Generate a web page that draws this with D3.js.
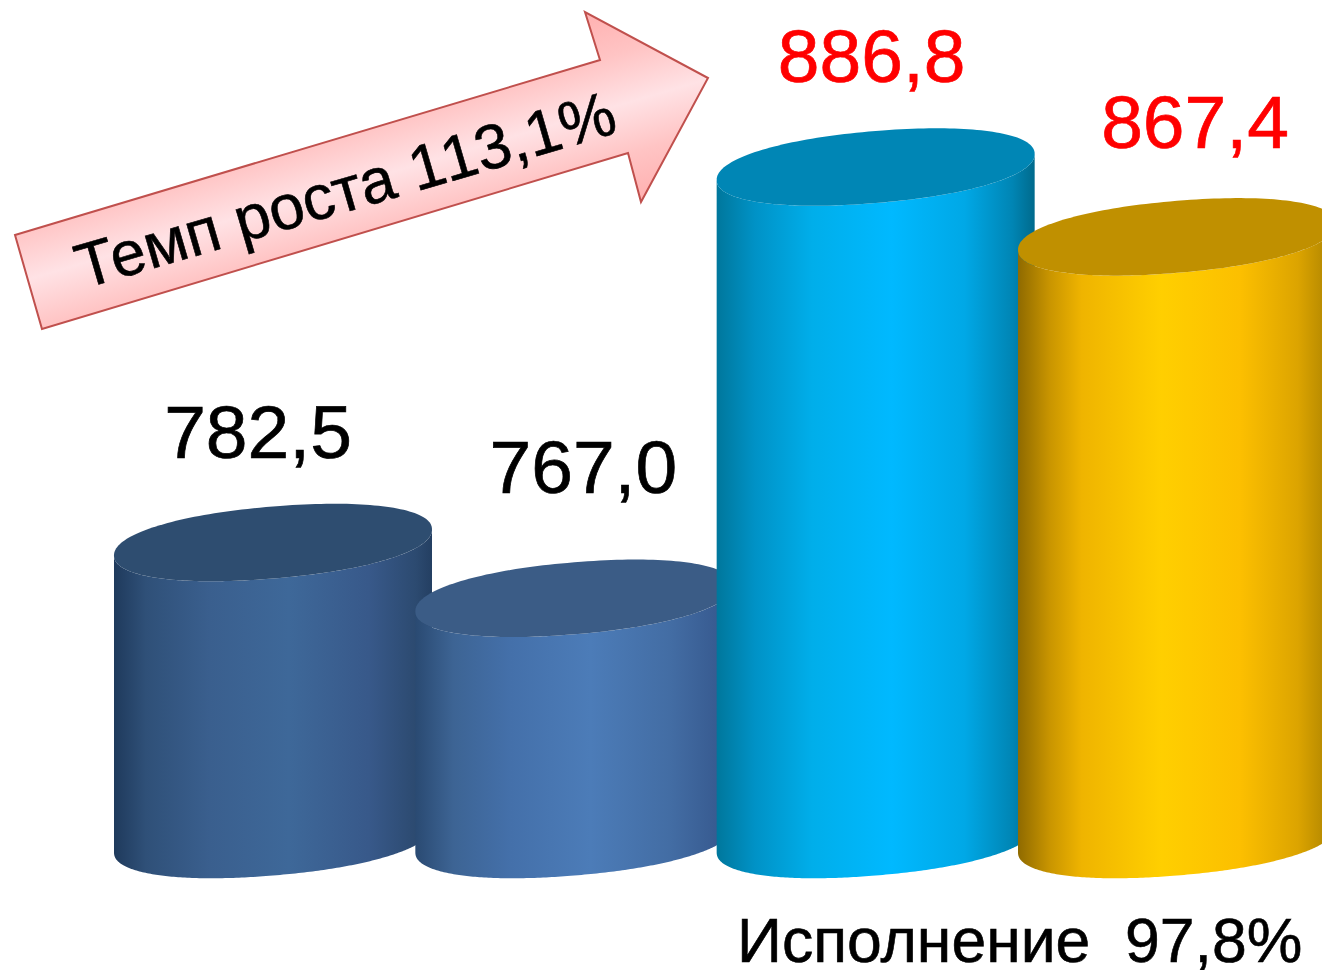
<!DOCTYPE html>
<html lang="ru">
<head>
<meta charset="utf-8">
<title>Темп роста</title>
<script src="https://cdn.jsdelivr.net/npm/d3@7/dist/d3.min.js"></script>
<style>
html,body{margin:0;padding:0;background:#fff;overflow:hidden}
svg{display:block}
text{font-family:"Liberation Sans",Arial,sans-serif;white-space:pre}
</style>
</head>
<body>
<div id="chart"></div>
<script>
// ---- data ----
const categories = ["A", "B", "C", "D"];
const values = [782.5, 767.0, 886.8, 867.4];
const valueLabels = ["782,5", "767,0", "886,8", "867,4"];
const labelColors = ["#000000", "#000000", "#ff0000", "#ff0000"];
const arrowCaption = ["Темп роста 1", "13,1%"];
const noteCaption = "Исполнение  97,8%";

// ---- layout & style (not data) ----
const W = 1322, H = 970;
const halfWidth = 159, ellipseB = 36, ellipseShear = -13, roundness = 0.93;
const labelDx = [-15, 9, -4, 18];
const labelGap = [85, 105, 85, 89];
const sideStops = [
  [[0,"#1f3a5c"],[.1,"#2f5078"],[.3,"#3a5f8e"],[.55,"#3e6899"],[.8,"#38598a"],[.95,"#2c4a70"],[1,"#243f62"]],
  [[0,"#2a4a72"],[.12,"#3d6494"],[.3,"#4470aa"],[.55,"#4c7cb8"],[.8,"#436da4"],[1,"#34558a"]],
  [[0,"#00779c"],[.12,"#0092c6"],[.3,"#00aeea"],[.55,"#00b9ff"],[.78,"#00a8e6"],[.93,"#0085b4"],[1,"#006a8c"]],
  [[0,"#8f6a00"],[.1,"#c99500"],[.2,"#efb400"],[.45,"#ffcf00"],[.7,"#fcbf00"],[.88,"#dca400"],[1,"#a88000"]]
];
const topColors = ["#2e4d70", "#3b5c86", "#0086b5", "#c09000"];

// ---- scales ----
const x = d3.scalePoint().domain(categories).range([273, 1177]);
const y = d3.scaleLinear().domain([700, 900]).range([839.5, 119.5]);

const svg = d3.select("#chart").append("svg").attr("width", W).attr("height", H)
  .attr("viewBox", `0 0 ${W} ${H}`);
const defs = svg.append("defs");
const line = d3.line();

// parametric rounded (super-elliptic) sheared rim
const spow = v => Math.sign(v) * Math.pow(Math.abs(v), roundness);
const pt = (cx, cy, t) => {
  const c = spow(Math.cos(t)), s = spow(Math.sin(t));
  return [cx + halfWidth * c, cy + ellipseB * s + ellipseShear * c];
};
const samples = d3.range(0, 181).map(i => i / 180);

function sidePath(cx, cyTop, cyBot) {
  const lower = samples.map(s => pt(cx, cyBot, Math.PI - s * Math.PI));
  const upper = samples.map(s => pt(cx, cyTop, s * Math.PI));
  return line(lower.concat(upper)) + "Z";
}
function topPath(cx, cy) {
  return line(samples.map(s => pt(cx, cy, s * 2 * Math.PI))) + "Z";
}

categories.forEach((c, i) => {
  const g = defs.append("linearGradient").attr("id", "side" + i)
    .attr("x1", 0).attr("x2", 1).attr("y1", 0).attr("y2", 0);
  sideStops[i].forEach(s => g.append("stop").attr("offset", s[0]).attr("stop-color", s[1]));
});

// ---- cylinders ----
const bars = svg.append("g").selectAll("g")
  .data(categories.map((c, i) => ({c, i, v: values[i]})))
  .join("g");
bars.append("path")
  .attr("d", d => sidePath(x(d.c), y(d.v), y(700)))
  .attr("fill", d => `url(#side${d.i})`);
bars.append("path")
  .attr("d", d => topPath(x(d.c), y(d.v)))
  .attr("fill", d => topColors[d.i]);

// ---- value labels ----
svg.append("g").selectAll("text")
  .data(categories.map((c, i) => ({c, i, v: values[i]})))
  .join("text")
  .attr("x", d => x(d.c) + labelDx[d.i])
  .attr("y", d => y(d.v) - labelGap[d.i])
  .attr("text-anchor", "middle")
  .attr("font-size", 75)
  .attr("fill", d => labelColors[d.i])
  .attr("stroke", d => labelColors[d.i])
  .attr("stroke-width", 0.7)
  .text(d => valueLabels[d.i]);

// ---- arrow ----
const arrowGrad = defs.append("linearGradient").attr("id", "arrowFill")
  .attr("gradientUnits", "userSpaceOnUse")
  .attr("x1", 585).attr("y1", 12).attr("x2", 641).attr("y2", 202);
[[0,"#ffb0b0"],[.25,"#ffc4c4"],[.5,"#ffe2e5"],[.75,"#ffc4c4"],[1,"#ffb0b0"]]
  .forEach(s => arrowGrad.append("stop").attr("offset", s[0]).attr("stop-color", s[1]));
const arrowShape = [[15,235],[600,60],[585,12],[708,78],[641,202],[628,153],[42,329]];
svg.append("path")
  .attr("d", line(arrowShape) + "Z")
  .attr("fill", "url(#arrowFill)")
  .attr("stroke", "#c0504d")
  .attr("stroke-width", 2)
  .attr("stroke-linejoin", "miter");
const arrowText = svg.append("text")
  .attr("transform", "translate(83,289) rotate(-16.3)")
  .attr("font-size", 63)
  .attr("fill", "#000")
  .attr("stroke", "#000")
  .attr("stroke-width", 0.6);
arrowText.append("tspan").text(arrowCaption[0]);
arrowText.append("tspan").attr("dx", 3).text(arrowCaption[1]);

// ---- note ----
svg.append("text")
  .attr("x", 737).attr("y", 962)
  .attr("font-size", 62.5)
  .attr("fill", "#000")
  .attr("stroke", "#000")
  .attr("stroke-width", 0.6)
  .text(noteCaption);
</script>
</body>
</html>
